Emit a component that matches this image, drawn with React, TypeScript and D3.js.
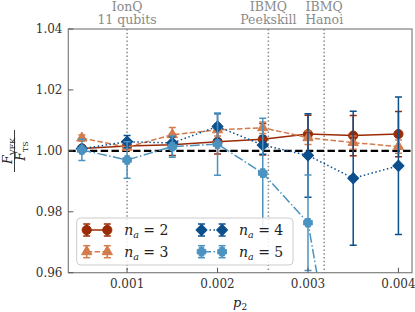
import React from "react";
import * as d3 from "d3";

const P2 = [0.0005, 0.001, 0.0015, 0.002, 0.0025, 0.003, 0.0035, 0.004];
const NA2 = [1.0008, 1.0016, 1.002, 1.003, 1.0038, 1.0055, 1.005, 1.0055];
const NA2_ERR = [0.0008, 0.001, 0.0035, 0.004, 0.0052, 0.0062, 0.0066, 0.0074];
const NA3 = [1.0042, 1.0012, 1.0053, 1.0069, 1.0076, 1.0043, 1.0027, 1.0014];
const NA3_ERR = [0.001, 0.001, 0.0024, 0.002, 0.0019, 0.0022, 0.0022, 0.0022];
const NA4 = [1.0007, 1.003, 1.0026, 1.008, 1.0019, 0.9985, 0.991, 0.9951];
const NA4_ERR = [0.001, 0.002, 0.002, 0.0042, 0.003, 0.0137, 0.022, 0.0226];
const NA5 = [1.0003, 0.997, 1.0014, 1.0022, 0.9927, 0.9764, 0.892, 0.88];
const NA5_ERR = [0.0035, 0.006, 0.0035, 0.0102, 0.018, 0.0157, 0.02, 0.02];

const X_TICKS = [0.001, 0.002, 0.003, 0.004];
const X_TICK_LABELS = ["0.001", "0.002", "0.003", "0.004"];
const Y_TICKS = [0.96, 0.98, 1.0, 1.02, 1.04];
const Y_TICK_LABELS = ["0.96", "0.98", "1.00", "1.02", "1.04"];

const DEVICES = [
  { p: 0.001, lines: ["IonQ", "11 qubits"] },
  { p: 0.002562, lines: ["IBMQ", "Peekskill"] },
  { p: 0.003179, lines: ["IBMQ", "Hanoi"] },
];

const SERIES = [
  { label: "2", y: NA2, err: NA2_ERR, color: "#9a2b06", dash: "", marker: "circle" },
  { label: "3", y: NA3, err: NA3_ERR, color: "#d27b4c", dash: "5.5,2.4", marker: "triangle" },
  { label: "4", y: NA4, err: NA4_ERR, color: "#0b4f8d", dash: "1.5,2.5", marker: "diamond" },
  { label: "5", y: NA5, err: NA5_ERR, color: "#4a92bf", dash: "9.6,2.4,1.5,2.4", marker: "plus" },
];

const W = 415, H = 312;
const L = 68.3, R = 412, T = 29, B = 272.7;
const FONT = "'DejaVu Serif', serif";

function plusPath(e: number, a: number) {
  const p = d3.path();
  p.moveTo(-a, -e);
  p.lineTo(a, -e);
  p.lineTo(a, -a);
  p.lineTo(e, -a);
  p.lineTo(e, a);
  p.lineTo(a, a);
  p.lineTo(a, e);
  p.lineTo(-a, e);
  p.lineTo(-a, a);
  p.lineTo(-e, a);
  p.lineTo(-e, -a);
  p.lineTo(-a, -a);
  p.closePath();
  return p.toString();
}

function markerPath(kind: string) {
  if (kind === "circle") return d3.symbol(d3.symbolCircle, 66)()!;
  if (kind === "triangle") return d3.symbol(d3.symbolTriangle, 46)()!;
  if (kind === "diamond") return d3.symbol(d3.symbolSquare, 62)()!;
  return plusPath(4.3, 2.3);
}

function Marker({ kind, x, y, color }: { kind: string; x: number; y: number; color: string }) {
  const rot = kind === "diamond" ? " rotate(45)" : "";
  return (
    <path
      d={markerPath(kind)}
      transform={`translate(${x},${y})${rot}`}
      fill={color}
      stroke={color}
      strokeWidth={1}
      strokeLinejoin="round"
    />
  );
}

function ErrBar({ x, y1, y2, color }: { x: number; y1: number; y2: number; color: string }) {
  return (
    <g stroke={color} strokeWidth={1.5}>
      <line x1={x} x2={x} y1={y1} y2={y2} />
      <line x1={x - 3.5} x2={x + 3.5} y1={y1} y2={y1} />
      <line x1={x - 3.5} x2={x + 3.5} y1={y2} y2={y2} />
    </g>
  );
}

export default function App() {
  const x = d3.scaleLinear().domain([0.00035, 0.00415]).range([L, R]);
  const y = d3.scaleLinear().domain([0.96, 1.04]).range([B, T]);
  const line = d3
    .line<number>()
    .x((_, i) => x(P2[i]))
    .y((v) => y(v));

  const legendItems = [
    { s: SERIES[0], col: 0, row: 0 },
    { s: SERIES[1], col: 0, row: 1 },
    { s: SERIES[2], col: 1, row: 0 },
    { s: SERIES[3], col: 1, row: 1 },
  ];
  const legX = [86.7, 201.5];
  const legY = [230, 251.7];

  return (
    <svg
      width={W}
      height={H}
      style={{ position: "absolute", left: 0, top: 0, background: "#fff", fontFamily: FONT }}
    >
      <defs>
        <clipPath id="plotclip">
          <rect x={L} y={T} width={R - L} height={B - T} />
        </clipPath>
      </defs>

      {/* device labels */}
      {DEVICES.map((d, i) => (
        <g key={i}>
          <line
            x1={x(d.p)}
            x2={x(d.p)}
            y1={T}
            y2={B}
            stroke="#8a8a8a"
            strokeWidth={1.5}
            strokeDasharray="1.5,2.3"
          />
          {d.lines.map((t, j) => (
            <text
              key={j}
              x={x(d.p)}
              y={10.5 + j * 13.5}
              textAnchor="middle"
              fontSize={12.5}
              fill="#8a8a8a"
            >
              {t}
            </text>
          ))}
        </g>
      ))}

      {/* reference line */}
      <line
        x1={L}
        x2={R}
        y1={y(1.0)}
        y2={y(1.0)}
        stroke="#000"
        strokeWidth={2.2}
        strokeDasharray="7.4,3.4"
      />

      {/* series */}
      <g clipPath="url(#plotclip)">
        {SERIES.map((s, si) => (
          <g key={si}>
            <path
              d={line(s.y)!}
              fill="none"
              stroke={s.color}
              strokeWidth={1.5}
              strokeDasharray={s.dash || undefined}
            />
            {s.y.map((v, i) => (
              <ErrBar
                key={"e" + i}
                x={x(P2[i])}
                y1={y(v + s.err[i])}
                y2={y(v - s.err[i])}
                color={s.color}
              />
            ))}
            {s.y.map((v, i) => (
              <Marker key={"m" + i} kind={s.marker} x={x(P2[i])} y={y(v)} color={s.color} />
            ))}
          </g>
        ))}
      </g>

      {/* axes */}
      <rect x={L} y={T} width={R - L} height={B - T} fill="none" stroke="#808080" strokeWidth={1.2} />
      {X_TICKS.map((t, i) => (
        <g key={i}>
          <line x1={x(t)} x2={x(t)} y1={B} y2={B - 5} stroke="#555" strokeWidth={1} />
          <text x={x(t)} y={288} textAnchor="middle" fontSize={12} fill="#333">
            {X_TICK_LABELS[i]}
          </text>
        </g>
      ))}
      {Y_TICKS.map((t, i) => (
        <g key={i}>
          <line x1={L} x2={L + 5} y1={y(t)} y2={y(t)} stroke="#555" strokeWidth={1} />
          <text x={62.5} y={y(t) + 4.4} textAnchor="end" fontSize={12} fill="#333">
            {Y_TICK_LABELS[i]}
          </text>
        </g>
      ))}

      {/* x label */}
      <text x={(L + R) / 2} y={307} textAnchor="middle" fontSize={13} fill="#222">
        <tspan fontStyle="italic">p</tspan>
        <tspan fontSize={9} dy={3}>2</tspan>
      </text>

      {/* y label */}
      <g transform="translate(14.5,151) rotate(-90)" fill="#222">
        <text x={0} y={-2.5} textAnchor="middle" fontSize={12.5}>
          <tspan fontStyle="italic">F</tspan>
          <tspan fontSize={8} dy={2.5}>VFK</tspan>
        </text>
        <line x1={-21} x2={21} y1={0} y2={0} stroke="#222" strokeWidth={0.9} />
        <text x={0} y={10.5} textAnchor="middle" fontSize={12.5}>
          <tspan fontStyle="italic">F</tspan>
          <tspan fontSize={8} dy={2.5}>TS</tspan>
        </text>
      </g>

      {/* legend */}
      <rect
        x={76.7}
        y={218}
        width={216.3}
        height={47}
        rx={4}
        fill="#fff"
        fillOpacity={0.85}
        stroke="#cccccc"
        strokeWidth={1}
      />
      {legendItems.map((it, k) => {
        const x0 = legX[it.col];
        const yy = legY[it.row];
        const x1 = x0 + 20.6;
        return (
          <g key={k}>
            <line
              x1={x0}
              x2={x1}
              y1={yy}
              y2={yy}
              stroke={it.s.color}
              strokeWidth={1.5}
              strokeDasharray={it.s.dash || undefined}
            />
            {[x0, x1].map((mx, j) => (
              <g key={j}>
                <ErrBar x={mx} y1={yy - 6} y2={yy + 6} color={it.s.color} />
                <Marker kind={it.s.marker} x={mx} y={yy} color={it.s.color} />
              </g>
            ))}
            <text x={x0 + 37.5} y={yy + 5} fontSize={14} fill="#222">
              <tspan fontStyle="italic">n</tspan>
              <tspan fontStyle="italic" fontSize={9.5} dy={3}>a</tspan>
              <tspan dy={-3}>{" = " + it.s.label}</tspan>
            </text>
          </g>
        );
      })}
    </svg>
  );
}
